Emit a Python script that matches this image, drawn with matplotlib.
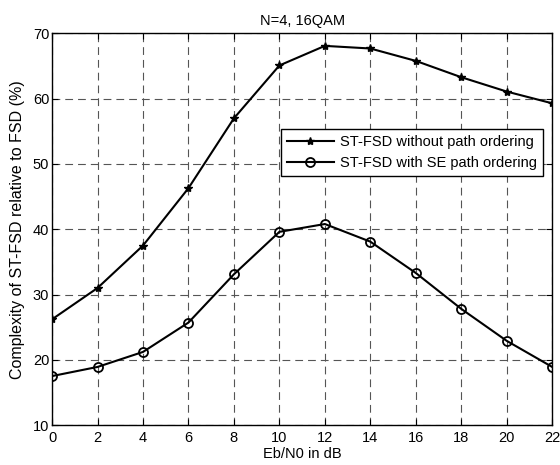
import numpy as np
import matplotlib
matplotlib.use("Agg")
import matplotlib.pyplot as plt

plt.rcParams['font.family'] = ['Liberation Sans', 'DejaVu Sans']

ebn0 = [0, 2, 4, 6, 8, 10, 12, 14, 16, 18, 20, 22]
no_order = [26.2, 31.0, 37.5, 46.3, 57.0, 65.1, 68.1, 67.7, 65.8, 63.3, 61.1, 59.3]
se_order = [17.5, 18.9, 21.2, 25.7, 33.1, 39.6, 40.8, 38.1, 33.3, 27.8, 22.9, 18.9]

fs = 10.5

fig = plt.figure(figsize=(5.6, 4.65), dpi=100)
ax = fig.add_axes([0.093, 0.086, 0.893, 0.842])

ax.plot(ebn0, no_order, color="black", linewidth=1.5, marker="*",
        markersize=6, label="ST-FSD without path ordering")
ax.plot(ebn0, se_order, color="black", linewidth=1.5, marker="o",
        markersize=6.5, markerfacecolor="none", markeredgewidth=1.3,
        label="ST-FSD with SE path ordering")

ax.set_xlim(0, 22)
ax.set_ylim(10, 70)
ax.set_xticks(np.arange(0, 23, 2))
ax.set_yticks(np.arange(10, 71, 10))
ax.tick_params(direction="in", top=True, right=True, labelsize=fs, length=4)
ax.tick_params(axis="x", pad=4)
ax.tick_params(axis="y", pad=2)
ax.grid(True, color="#555555", linestyle=(0, (7, 4.5)), linewidth=0.8)
for s in ax.spines.values():
    s.set_linewidth(1.0)

ax.set_xlabel("Eb/N0 in dB", fontsize=fs, labelpad=2)
ax.set_ylabel("Complexity of ST-FSD relative to FSD (%)", fontsize=11.5, labelpad=6)
ax.set_title("N=4, 16QAM", fontsize=fs, pad=6)

leg = ax.legend(loc="upper right", bbox_to_anchor=(0.982, 0.757),
                borderaxespad=0, fontsize=fs, fancybox=False, framealpha=1,
                edgecolor="black", borderpad=0.45, handlelength=3.2,
                handletextpad=0.4, labelspacing=0.45)
leg.get_frame().set_linewidth(1.0)

fig.savefig("out.png", dpi=100)
